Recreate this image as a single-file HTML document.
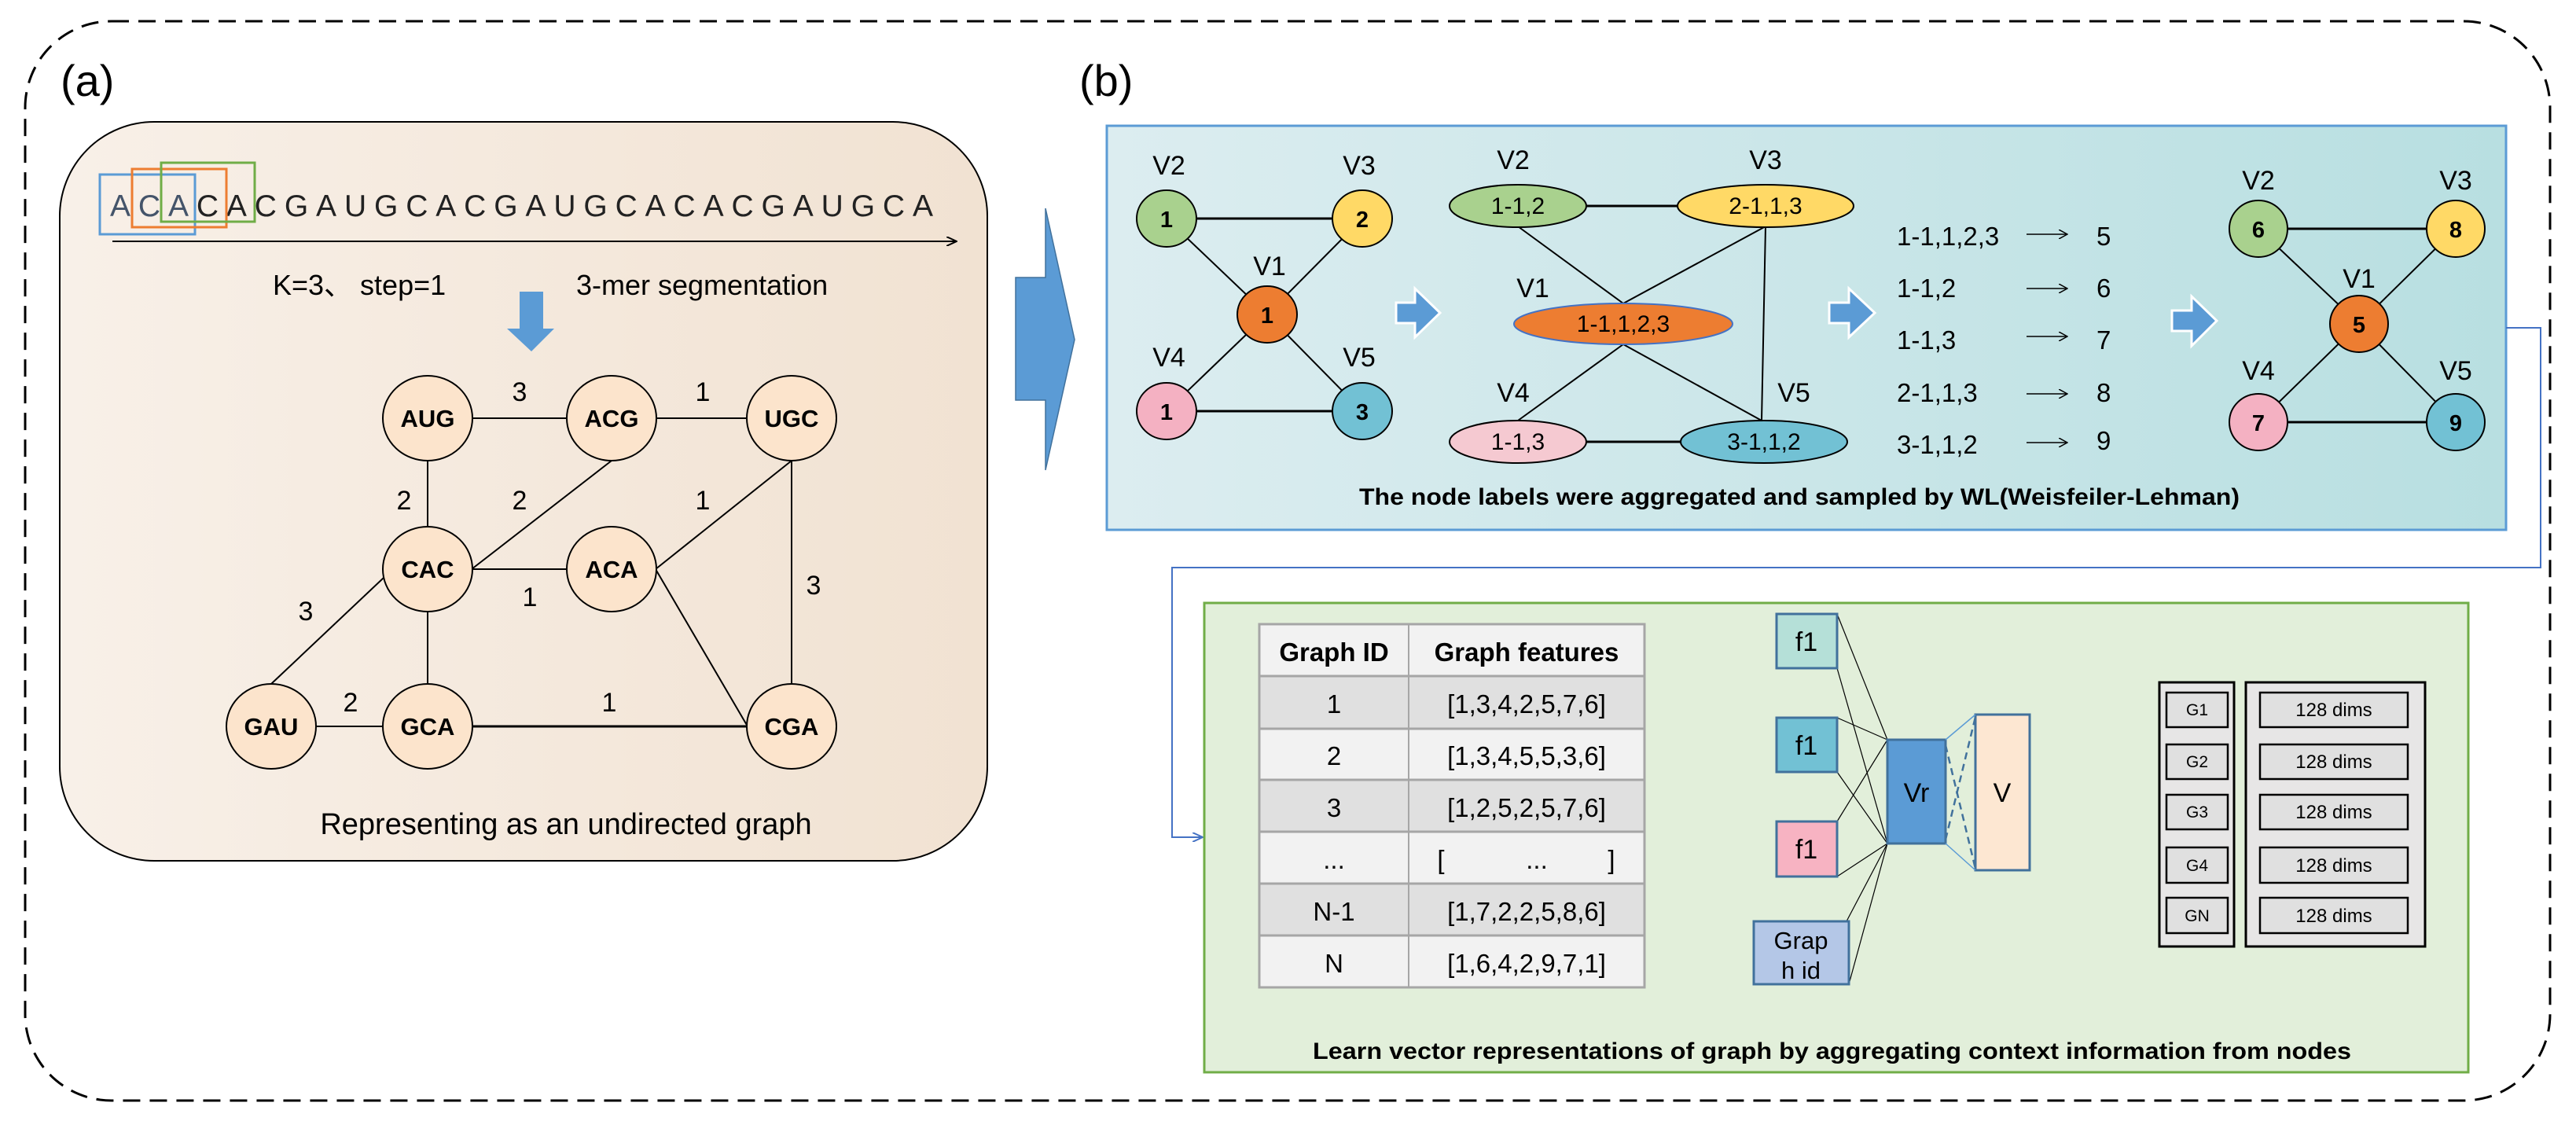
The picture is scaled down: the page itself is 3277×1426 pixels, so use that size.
<!DOCTYPE html>
<html><head><meta charset="utf-8"><style>html,body{margin:0;padding:0;background:#fff}svg{display:block}</style></head>
<body>
<svg width="3277" height="1426" viewBox="0 0 3277 1426" xmlns="http://www.w3.org/2000/svg" font-family="Liberation Sans, sans-serif">
<defs>
<linearGradient id="ga" x1="0" x2="1" y1="0" y2="0"><stop offset="0" stop-color="#f8f0e8"/><stop offset="1" stop-color="#f1e2d2"/></linearGradient>
<linearGradient id="gb" x1="0" x2="1" y1="0" y2="0"><stop offset="0" stop-color="#dcedf0"/><stop offset="1" stop-color="#b8dfe1"/></linearGradient>
<marker id="ah" markerWidth="14" markerHeight="12" refX="13" refY="6" orient="auto" markerUnits="userSpaceOnUse"><path d="M0,0 L13,6 L0,12" fill="none" stroke="#000" stroke-width="2"/></marker>
<marker id="ahs" markerWidth="12" markerHeight="12" refX="11" refY="6" orient="auto" markerUnits="userSpaceOnUse"><path d="M0,0 L11,6 L0,12" fill="none" stroke="#000" stroke-width="1.5"/></marker>
<marker id="ahb" markerWidth="14" markerHeight="12" refX="13" refY="6" orient="auto" markerUnits="userSpaceOnUse"><path d="M0,0 L13,6 L0,12" fill="none" stroke="#4472c4" stroke-width="2"/></marker>
</defs>
<!-- outer dashed -->
<rect x="32" y="27" width="3212" height="1373" rx="110" fill="none" stroke="#000" stroke-width="3" stroke-dasharray="22,12"/>
<text x="77" y="122" font-size="56">(a)</text>
<text x="1373" y="122" font-size="56">(b)</text>

<!-- panel a -->
<rect x="76" y="155" width="1180" height="940" rx="120" fill="url(#ga)" stroke="#000" stroke-width="2"/>
<text x="140" y="275" font-size="39" fill="#222" textLength="1047" lengthAdjust="spacing"><tspan fill="#44546a">ACA</tspan>CACGAUGCACGAUGCACACGAUGCA</text>
<rect x="127" y="222" width="121" height="76" fill="none" stroke="#5b9bd5" stroke-width="3"/>
<rect x="168" y="215" width="120" height="74" fill="none" stroke="#ed7d31" stroke-width="3"/>
<rect x="205" y="207" width="119" height="75" fill="none" stroke="#70ad47" stroke-width="3"/>
<line x1="143" y1="307" x2="1217" y2="307" stroke="#000" stroke-width="2" marker-end="url(#ah)"/>
<text x="347" y="375" font-size="36">K=3、 step=1</text>
<text x="733" y="375" font-size="36">3-mer segmentation</text>
<path d="M661,371 H691 V418 H705 L676,447 L645,418 H661 Z" fill="#5b9bd5"/>
<g stroke="#000" stroke-width="2">
<line x1="544" y1="532" x2="778" y2="532"/><line x1="778" y1="532" x2="1007" y2="532"/>
<line x1="544" y1="532" x2="544" y2="724"/><line x1="778" y1="586" x2="600" y2="724"/>
<line x1="544" y1="724" x2="778" y2="724"/><line x1="1007" y1="586" x2="834" y2="724"/>
<line x1="1007" y1="532" x2="1007" y2="924"/><line x1="834" y1="724" x2="951" y2="924"/>
<line x1="544" y1="724" x2="544" y2="924"/><line x1="488" y1="735" x2="345" y2="870"/>
<line x1="345" y1="924" x2="544" y2="924"/><line x1="544" y1="924" x2="1007" y2="924" stroke-width="3"/>
</g>
<g fill="#fce4cc" stroke="#000" stroke-width="2">
<ellipse cx="544" cy="532" rx="57" ry="54"/><ellipse cx="778" cy="532" rx="57" ry="54"/><ellipse cx="1007" cy="532" rx="57" ry="54"/>
<ellipse cx="544" cy="724" rx="57" ry="54"/><ellipse cx="778" cy="724" rx="57" ry="54"/>
<ellipse cx="345" cy="924" rx="57" ry="54"/><ellipse cx="544" cy="924" rx="57" ry="54"/><ellipse cx="1007" cy="924" rx="57" ry="54"/>
</g>
<g font-size="31" font-weight="bold" text-anchor="middle">
<text x="544" y="543">AUG</text><text x="778" y="543">ACG</text><text x="1007" y="543">UGC</text>
<text x="544" y="735">CAC</text><text x="778" y="735">ACA</text>
<text x="345" y="935">GAU</text><text x="544" y="935">GCA</text><text x="1007" y="935">CGA</text>
</g>
<g font-size="34" text-anchor="middle">
<text x="661" y="510">3</text><text x="894" y="510">1</text><text x="514" y="648">2</text><text x="661" y="648">2</text>
<text x="894" y="648">1</text><text x="674" y="771">1</text><text x="1035" y="756">3</text><text x="389" y="789">3</text>
<text x="446" y="905">2</text><text x="775" y="905">1</text>
</g>
<text x="720" y="1061" font-size="38" text-anchor="middle">Representing as an undirected graph</text>

<!-- big arrow -->
<path d="M1292,353 H1330 V265 L1367,432 L1330,598 V509 H1292 Z" fill="#5b9bd5" stroke="#41719c" stroke-width="1.5"/>

<!-- panel b -->
<rect x="1408" y="160" width="1780" height="514" fill="url(#gb)" stroke="#5b9bd5" stroke-width="3"/>
<g stroke="#000" stroke-width="2">
<line x1="1484" y1="278" x2="1733" y2="278" stroke-width="3"/><line x1="1484" y1="523" x2="1733" y2="523" stroke-width="3"/>
<line x1="1484" y1="278" x2="1612" y2="400"/><line x1="1733" y1="278" x2="1612" y2="400"/>
<line x1="1484" y1="523" x2="1612" y2="400"/><line x1="1733" y1="523" x2="1612" y2="400"/>
</g>
<g stroke="#000" stroke-width="2">
<ellipse cx="1484" cy="278" rx="38" ry="36" fill="#a9d18e"/><ellipse cx="1733" cy="278" rx="38" ry="36" fill="#ffd966"/>
<ellipse cx="1612" cy="400" rx="38" ry="36" fill="#ed7d31"/>
<ellipse cx="1484" cy="523" rx="38" ry="36" fill="#f4b1c2"/><ellipse cx="1733" cy="523" rx="38" ry="36" fill="#72c1d4"/>
</g>
<g font-size="29" font-weight="bold" text-anchor="middle">
<text x="1484" y="289">1</text><text x="1733" y="289">2</text><text x="1612" y="411">1</text><text x="1484" y="534">1</text><text x="1733" y="534">3</text>
</g>
<g font-size="34" text-anchor="middle">
<text x="1487" y="222">V2</text><text x="1729" y="222">V3</text><text x="1615" y="350">V1</text><text x="1487" y="466">V4</text><text x="1729" y="466">V5</text>
</g>
<g fill="#5b9bd5" stroke="#fff" stroke-width="3">
<path d="M1776,385 H1800 V367 L1832,398 L1800,429 V411 H1776 Z"/>
<path d="M2327,385 H2352 V367 L2385,398 L2352,429 V411 H2327 Z"/>
<path d="M2763,395 H2788 V377 L2820,408 L2788,440 V421 H2763 Z"/>
<path d="M2174,1015 H2199 V997 L2228,1028 L2199,1059 V1041 H2174 Z"/>
<path d="M2635,1014 H2662 V996 L2693,1027 L2662,1059 V1040 H2635 Z"/>
</g>
<!-- graph 2 -->
<g stroke="#000" stroke-width="2">
<line x1="2018" y1="262" x2="2134" y2="262" stroke-width="3"/><line x1="2018" y1="562" x2="2138" y2="562" stroke-width="3"/>
<line x1="1931" y1="288" x2="2065" y2="386"/><line x1="2246" y1="288" x2="2065" y2="386"/>
<line x1="2246" y1="288" x2="2241" y2="535"/>
<line x1="2065" y1="438" x2="1931" y2="535"/><line x1="2065" y1="438" x2="2241" y2="535"/>
</g>
<g stroke="#000" stroke-width="2">
<ellipse cx="1931" cy="262" rx="87" ry="27" fill="#a9d18e"/><ellipse cx="2246" cy="262" rx="112" ry="27" fill="#ffd966"/>
<ellipse cx="2065" cy="412" rx="139" ry="26" fill="#ed7d31" stroke="#4472c4"/>
<ellipse cx="1931" cy="562" rx="87" ry="27" fill="#f5c9d1"/><ellipse cx="2244" cy="562" rx="106" ry="27" fill="#72c1d4"/>
</g>
<g font-size="30" text-anchor="middle">
<text x="1931" y="272">1-1,2</text><text x="2246" y="272">2-1,1,3</text><text x="2065" y="422">1-1,1,2,3</text>
<text x="1931" y="572">1-1,3</text><text x="2244" y="572">3-1,1,2</text>
</g>
<g font-size="34" text-anchor="middle">
<text x="1925" y="215">V2</text><text x="2246" y="215">V3</text><text x="1950" y="378">V1</text><text x="1925" y="511">V4</text><text x="2282" y="511">V5</text>
</g>
<g font-size="33">
<text x="2413" y="312">1-1,1,2,3</text><text x="2413" y="378">1-1,2</text><text x="2413" y="444">1-1,3</text><text x="2413" y="511">2-1,1,3</text><text x="2413" y="577">3-1,1,2</text>
<text x="2667" y="312">5</text><text x="2667" y="378">6</text><text x="2667" y="444">7</text><text x="2667" y="511">8</text><text x="2667" y="572">9</text>
</g>
<g stroke="#000" stroke-width="1.5" marker-end="url(#ahs)">
<line x1="2578" y1="298" x2="2630" y2="298"/><line x1="2578" y1="367" x2="2630" y2="367"/>
<line x1="2578" y1="428" x2="2630" y2="428"/><line x1="2578" y1="501" x2="2630" y2="501"/>
<line x1="2578" y1="563" x2="2630" y2="563"/>
</g>
<!-- graph 3 -->
<g stroke="#000" stroke-width="2">
<line x1="2873" y1="291" x2="3124" y2="291" stroke-width="3"/><line x1="2873" y1="537" x2="3124" y2="537" stroke-width="3"/>
<line x1="2873" y1="291" x2="3001" y2="412"/><line x1="3124" y1="291" x2="3001" y2="412"/>
<line x1="2873" y1="537" x2="3001" y2="412"/><line x1="3124" y1="537" x2="3001" y2="412"/>
</g>
<g stroke="#000" stroke-width="2">
<ellipse cx="2873" cy="291" rx="37" ry="36" fill="#a9d18e"/><ellipse cx="3124" cy="291" rx="37" ry="36" fill="#ffd966"/>
<ellipse cx="3001" cy="412" rx="37" ry="36" fill="#ed7d31"/>
<ellipse cx="2873" cy="537" rx="37" ry="36" fill="#f4b1c2"/><ellipse cx="3124" cy="537" rx="37" ry="36" fill="#72c1d4"/>
</g>
<g font-size="29" font-weight="bold" text-anchor="middle">
<text x="2873" y="302">6</text><text x="3124" y="302">8</text><text x="3001" y="423">5</text><text x="2873" y="548">7</text><text x="3124" y="548">9</text>
</g>
<g font-size="34" text-anchor="middle">
<text x="2873" y="241">V2</text><text x="3124" y="241">V3</text><text x="3001" y="366">V1</text><text x="2873" y="483">V4</text><text x="3124" y="483">V5</text>
</g>
<text x="2289" y="642" font-size="30" font-weight="bold" text-anchor="middle" textLength="1120" lengthAdjust="spacingAndGlyphs">The node labels were aggregated and sampled by WL(Weisfeiler-Lehman)</text>

<!-- connector -->
<polyline points="3188,417 3232,417 3232,722 1491,722 1491,1065 1530,1065" fill="none" stroke="#4472c4" stroke-width="2" marker-end="url(#ahb)"/>

<!-- green panel -->
<rect x="1532" y="767" width="1608" height="597" fill="#e2efda" stroke="#70ad47" stroke-width="3"/>
<!-- table -->
<g stroke="#a6a6a6" stroke-width="3">
<rect x="1602" y="794" width="490" height="66" fill="#f2f2f2"/>
<rect x="1602" y="860" width="490" height="67" fill="#e0e0e0"/>
<rect x="1602" y="927" width="490" height="65" fill="#f2f2f2"/>
<rect x="1602" y="992" width="490" height="66" fill="#e0e0e0"/>
<rect x="1602" y="1058" width="490" height="66" fill="#f2f2f2"/>
<rect x="1602" y="1124" width="490" height="66" fill="#e0e0e0"/>
<rect x="1602" y="1190" width="490" height="66" fill="#f2f2f2"/>
<line x1="1792" y1="794" x2="1792" y2="1256" stroke-width="2"/>
</g>
<g font-size="33" text-anchor="middle">
<text x="1697" y="841" font-weight="bold">Graph ID</text><text x="1942" y="841" font-weight="bold">Graph features</text>
<text x="1697" y="907">1</text><text x="1942" y="907">[1,3,4,2,5,7,6]</text>
<text x="1697" y="973">2</text><text x="1942" y="973">[1,3,4,5,5,3,6]</text>
<text x="1697" y="1039">3</text><text x="1942" y="1039">[1,2,5,2,5,7,6]</text>
<text x="1697" y="1105">...</text><text x="1833" y="1105">[</text><text x="1955" y="1105">...</text><text x="2050" y="1105">]</text>
<text x="1697" y="1171">N-1</text><text x="1942" y="1171">[1,7,2,2,5,8,6]</text>
<text x="1697" y="1237">N</text><text x="1942" y="1237">[1,6,4,2,9,7,1]</text>
</g>
<!-- nn -->
<g stroke="#000" stroke-width="1.2">
<line x1="2337" y1="781" x2="2401" y2="941"/><line x1="2337" y1="850" x2="2401" y2="1073"/>
<line x1="2337" y1="913" x2="2401" y2="941"/><line x1="2337" y1="982" x2="2401" y2="1073"/>
<line x1="2337" y1="1045" x2="2401" y2="941"/><line x1="2337" y1="1115" x2="2401" y2="1073"/>
<line x1="2349" y1="1172" x2="2401" y2="1073"/><line x1="2352" y1="1252" x2="2401" y2="1073"/>
</g>
<g stroke="#41719c" stroke-width="3">
<rect x="2260" y="781" width="77" height="69" fill="#b5e0d8"/>
<rect x="2260" y="913" width="77" height="69" fill="#72c1d4"/>
<rect x="2260" y="1045" width="77" height="70" fill="#f7b3c2"/>
<rect x="2231" y="1172" width="121" height="80" fill="#b4c7e7"/>
<rect x="2401" y="941" width="74" height="132" fill="#5b9bd5"/>
<rect x="2513" y="909" width="69" height="198" fill="#fde7d2"/>
</g>
<g stroke="#5b9bd5" stroke-width="1.5">
<line x1="2475" y1="941" x2="2513" y2="909"/><line x1="2475" y1="1073" x2="2513" y2="1107"/>
</g>
<g stroke="#41719c" stroke-width="2.5" stroke-dasharray="9,6">
<line x1="2475" y1="948" x2="2513" y2="1105"/><line x1="2475" y1="1068" x2="2513" y2="912"/>
</g>
<g font-size="34" text-anchor="middle">
<text x="2298" y="828">f1</text><text x="2298" y="960">f1</text><text x="2298" y="1092">f1</text>
<text x="2291" y="1207" font-size="31">Grap</text><text x="2291" y="1245" font-size="31">h id</text>
<text x="2438" y="1020">Vr</text><text x="2547" y="1020">V</text>
</g>
<!-- outputs -->
<rect x="2747" y="868" width="95" height="336" fill="#e7e6e6" stroke="#000" stroke-width="3"/>
<rect x="2857" y="868" width="228" height="336" fill="#e7e6e6" stroke="#000" stroke-width="3"/>
<g fill="#e0e0e0" stroke="#000" stroke-width="2.5">
<rect x="2756" y="881" width="78" height="44"/><rect x="2756" y="947" width="78" height="44"/><rect x="2756" y="1011" width="78" height="44"/><rect x="2756" y="1078" width="78" height="45"/><rect x="2756" y="1142" width="78" height="45"/>
<rect x="2875" y="881" width="188" height="44"/><rect x="2875" y="947" width="188" height="44"/><rect x="2875" y="1011" width="188" height="44"/><rect x="2875" y="1078" width="188" height="45"/><rect x="2875" y="1142" width="188" height="45"/>
</g>
<g font-size="21" text-anchor="middle">
<text x="2795" y="910">G1</text><text x="2795" y="976">G2</text><text x="2795" y="1040">G3</text><text x="2795" y="1108">G4</text><text x="2795" y="1172">GN</text>
</g>
<g font-size="24" text-anchor="middle">
<text x="2969" y="911">128 dims</text><text x="2969" y="977">128 dims</text><text x="2969" y="1041">128 dims</text><text x="2969" y="1109">128 dims</text><text x="2969" y="1173">128 dims</text>
</g>
<text x="1670" y="1347" font-size="30" font-weight="bold" textLength="1321" lengthAdjust="spacingAndGlyphs">Learn vector representations of  graph by aggregating context information from nodes</text>
</svg>
</body></html>
